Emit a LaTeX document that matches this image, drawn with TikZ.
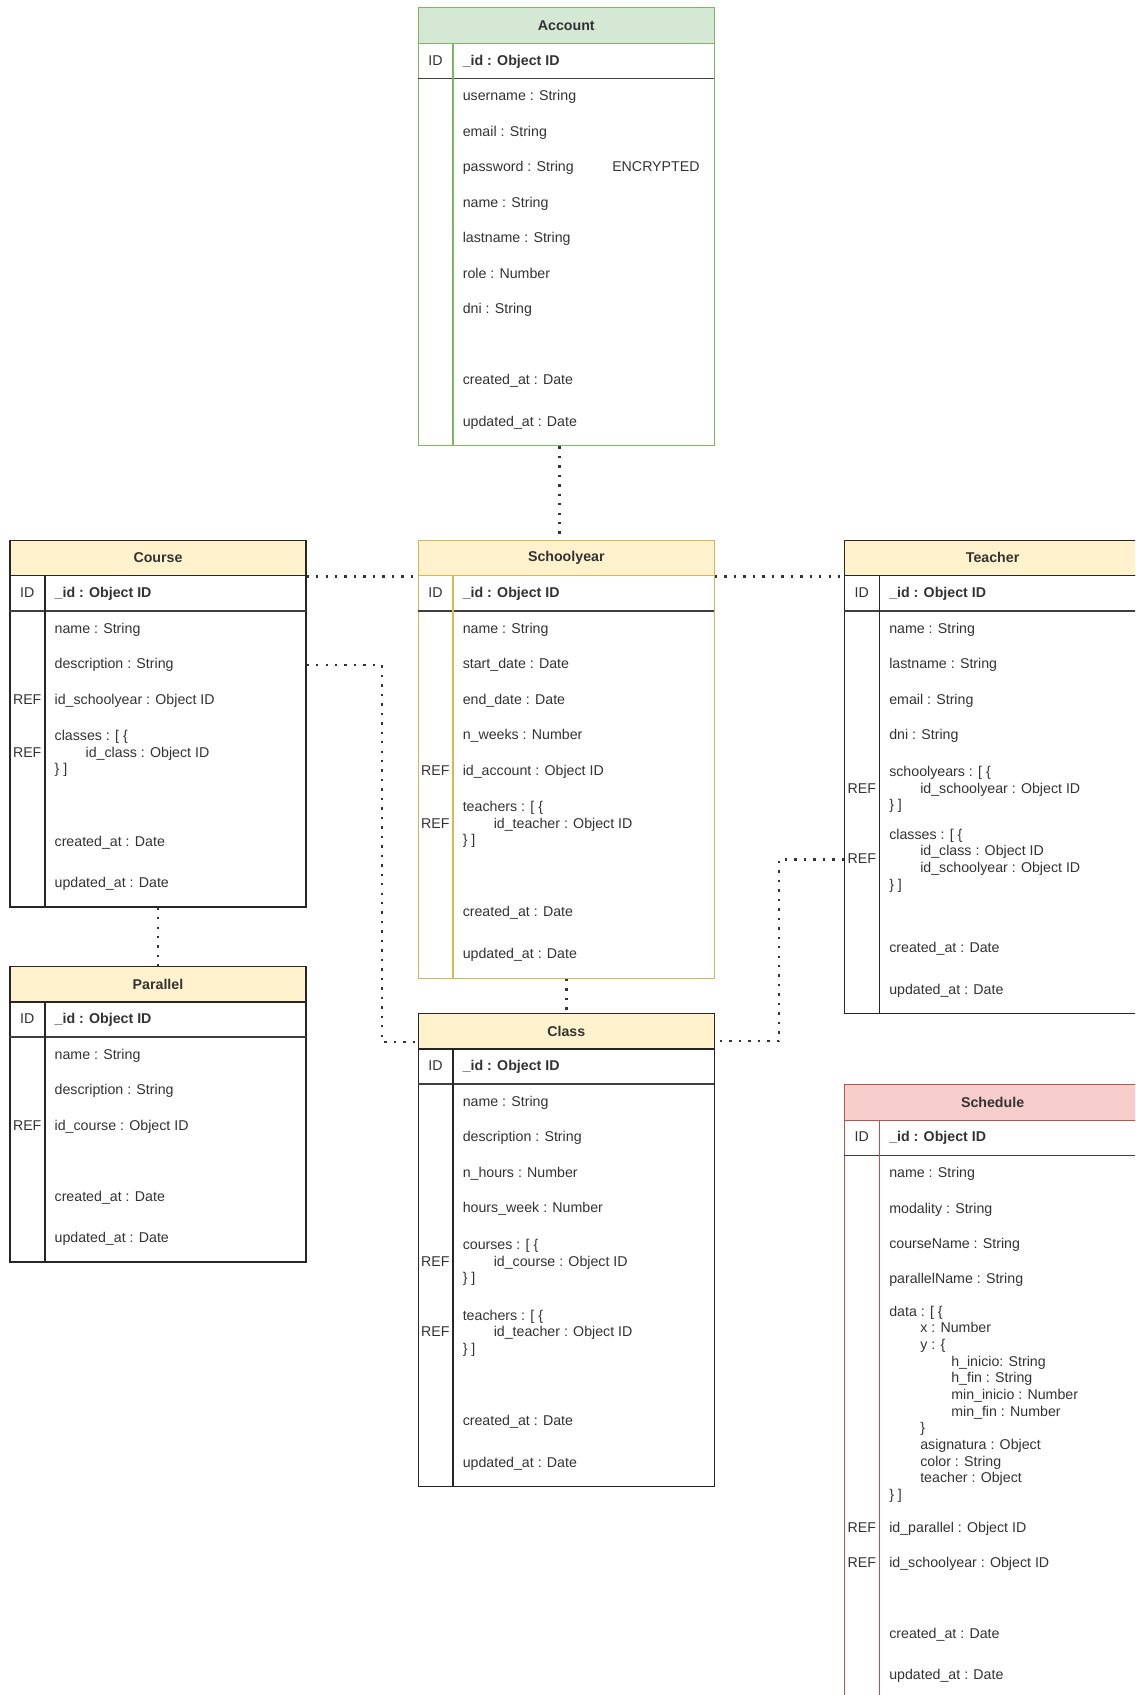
\documentclass[tikz,border=0pt]{standalone}
\usepackage{fontspec}
\setmainfont{Liberation Sans}
\usepackage{tikz}

\definecolor{txt}{HTML}{333333}
\definecolor{edge}{HTML}{262626}
\definecolor{sepc}{HTML}{404040}
\definecolor{accfill}{HTML}{D5E8D4}
\definecolor{accline}{HTML}{82B366}
\definecolor{yelfill}{HTML}{FFF2CC}
\definecolor{yelline}{HTML}{D6B656}
\definecolor{redfill}{HTML}{F8CECC}
\definecolor{redline}{HTML}{B85450}

\newcommand{\ind}{\hspace*{23.25pt}}

\tikzset{
  hdr/.style={anchor=north west, minimum width=222pt, minimum height=26.7pt,
    inner sep=0pt, line width=0.9pt, text=txt,
    font=\fontsize{10.65}{12.5}\selectfont\bfseries},
  body/.style={anchor=north west, minimum width=222pt, inner sep=0pt,
    line width=0.9pt, fill=white},
  fld/.style={anchor=west, inner sep=0pt, text=txt, text height=8pt, text depth=2.5pt,
    font=\fontsize{10.65}{12.5}\selectfont},
  fldm/.style={anchor=west, inner sep=0pt, text=txt, align=left,
    font=\fontsize{10.65}{12.5}\selectfont},
  idf/.style={fld, font=\fontsize{10.65}{12.5}\selectfont\bfseries},
  key/.style={inner sep=0pt, text=txt, text height=8pt, text depth=2.5pt,
    font=\fontsize{10.65}{12.5}\selectfont},
  sep/.style={draw=sepc, line width=1.1pt},
  rel/.style={draw=txt, line width=1.8pt, dash pattern=on 1.8pt off 5.3pt},
}

\begin{document}
\begin{tikzpicture}[x=0.75pt, y=-0.75pt]
  \useasboundingbox (0,0) rectangle (1135,1695);
  \clip (0,0) rectangle (1135,1695);

  % Account
  \node[body, draw=accline, minimum height=301.6pt] (accB) at (417.7,42.9) {};
  \node[hdr, fill=accfill, draw=accline] (accH) at (417.7,7.3) {Account};
  \draw[sep] (417.7,78.5) -- (713.7,78.5);
  \draw[accline, line width=0.9pt] (453,42.9) -- (453,445);
  \node[key] (accK) at (435.4,61.5) {ID};
  \node[idf] (accId) at (462.5,61.5) {\_id : Object ID};
  \node[fld] (accUser) at (462.5,97) {username : String};
  \node[fld] (accMail) at (462.5,132.6) {email : String};
  \node[fld] (accPass) at (462.5,168.2) {password : String};
  \node[fld] (accEnc) at (612,168.2) {ENCRYPTED};
  \node[fld] (accName) at (462.5,203.6) {name : String};
  \node[fld] (accLast) at (462.5,239) {lastname : String};
  \node[fld] (accRole) at (462.5,274.6) {role : Number};
  \node[fld] (accDni) at (462.5,310.2) {dni : String};
  \node[fld] (accCrt) at (462.5,381) {created\_at : Date};
  \node[fld] (accUpd) at (462.5,422.6) {updated\_at : Date};

  % Course
  \node[body, draw=edge, minimum height=248.4pt] (courseB) at (9.4,575.2) {};
  \node[hdr, fill=yelfill, draw=edge] (courseH) at (9.4,539.5) {Course};
  \draw[sep] (9.4,611) -- (305.5,611);
  \draw[edge, line width=0.9pt] (44.9,575.2) -- (44.9,906.4);
  \node[key] (courseK) at (27.2,593.7) {ID};
  \node[idf] (courseId) at (54.4,593.7) {\_id : Object ID};
  \node[fld] (cname) at (54.4,629.6) {name : String};
  \node[fld] (cdesc) at (54.4,665.2) {description : String};
  \node[key] (cref1) at (27.2,700.6) {REF};
  \node[fld] (cyear) at (54.4,700.6) {id\_schoolyear : Object ID};
  \node[key] (cref2) at (27.2,753.6) {REF};
  \node[fldm] (ccls) at (54.4,753.6) {classes : [ \{\\ \ind id\_class : Object ID\\ \} ]};
  \node[fld] (ccrt) at (54.4,842.6) {created\_at : Date};
  \node[fld] (cupd) at (54.4,883.6) {updated\_at : Date};

  % Parallel
  \node[body, draw=edge, minimum height=195.1pt] (parB) at (9.4,1001.3) {};
  \node[hdr, fill=yelfill, draw=edge] (parH) at (9.4,965.7) {Parallel};
  \draw[sep] (9.4,1037) -- (305.5,1037);
  \draw[edge, line width=0.9pt] (44.9,1001.3) -- (44.9,1261.4);
  \node[key] (parK) at (27.2,1019.7) {ID};
  \node[idf] (parId) at (54.4,1019.7) {\_id : Object ID};
  \node[fld] (pname) at (54.4,1055.6) {name : String};
  \node[fld] (pdesc) at (54.4,1091.1) {description : String};
  \node[key] (pref) at (27.2,1126.6) {REF};
  \node[fld] (pcourse) at (54.4,1126.6) {id\_course : Object ID};
  \node[fld] (pcrt) at (54.4,1197.6) {created\_at : Date};
  \node[fld] (pupd) at (54.4,1239.1) {updated\_at : Date};

  % Schoolyear
  \node[body, draw=yelline, minimum height=301.8pt] (yearB) at (417.7,575.2) {};
  \node[hdr, fill=yelfill, draw=yelline] (yearH) at (417.7,539.5) {Schoolyear};
  \draw[sep] (417.7,611) -- (713.7,611);
  \draw[yelline, line width=0.9pt] (453,575.2) -- (453,977.6);
  \node[key] (yearK) at (435.4,593.7) {ID};
  \node[idf] (yearId) at (462.5,593.7) {\_id : Object ID};
  \node[fld] (yname) at (462.5,629.6) {name : String};
  \node[fld] (ystart) at (462.5,665.2) {start\_date : Date};
  \node[fld] (yend) at (462.5,700.6) {end\_date : Date};
  \node[fld] (yweeks) at (462.5,736.1) {n\_weeks : Number};
  \node[key] (yref1) at (435.4,771.6) {REF};
  \node[fld] (yacc) at (462.5,771.6) {id\_account : Object ID};
  \node[key] (yref2) at (435.4,824.6) {REF};
  \node[fldm] (yteach) at (462.5,824.6) {teachers : [ \{\\ \ind id\_teacher : Object ID\\ \} ]};
  \node[fld] (ycrt) at (462.5,913.2) {created\_at : Date};
  \node[fld] (yupd) at (462.5,954.9) {updated\_at : Date};

  % Class
  \node[body, draw=edge, minimum height=327.9pt] (classB) at (417.7,1048.4) {};
  \node[hdr, fill=yelfill, draw=edge] (classH) at (417.7,1012.8) {Class};
  \draw[sep] (417.7,1084) -- (713.7,1084);
  \draw[edge, line width=0.9pt] (453,1048.4) -- (453,1485.6);
  \node[key] (classK) at (435.4,1066.8) {ID};
  \node[idf] (classId) at (462.5,1066.8) {\_id : Object ID};
  \node[fld] (kname) at (462.5,1102.6) {name : String};
  \node[fld] (kdesc) at (462.5,1138.2) {description : String};
  \node[fld] (khours) at (462.5,1173.6) {n\_hours : Number};
  \node[fld] (kweek) at (462.5,1209) {hours\_week : Number};
  \node[key] (kref1) at (435.4,1262.6) {REF};
  \node[fldm] (kcourse) at (462.5,1262.6) {courses : [ \{\\ \ind id\_course : Object ID\\ \} ]};
  \node[key] (kref2) at (435.4,1333.2) {REF};
  \node[fldm] (kteach) at (462.5,1333.2) {teachers : [ \{\\ \ind id\_teacher : Object ID\\ \} ]};
  \node[fld] (kcrt) at (462.5,1422.1) {created\_at : Date};
  \node[fld] (kupd) at (462.5,1463.6) {updated\_at : Date};

  % Teacher
  \node[body, draw=edge, minimum height=328.2pt] (teachB) at (844,575.2) {};
  \node[hdr, fill=yelfill, draw=edge] (teachH) at (844,539.5) {Teacher};
  \draw[sep] (844,611) -- (1140,611);
  \draw[edge, line width=0.9pt] (879.5,575.2) -- (879.5,1012.8);
  \node[key] (teachK) at (861.8,593.7) {ID};
  \node[idf] (teachId) at (889,593.7) {\_id : Object ID};
  \node[fld] (tname) at (889,629.6) {name : String};
  \node[fld] (tlast) at (889,665.2) {lastname : String};
  \node[fld] (tmail) at (889,700.6) {email : String};
  \node[fld] (tdni) at (889,736.1) {dni : String};
  \node[key] (tref1) at (861.8,789.6) {REF};
  \node[fldm] (tyears) at (889,789.6) {schoolyears : [ \{\\ \ind id\_schoolyear : Object ID\\ \} ]};
  \node[key] (tref2) at (861.8,859.6) {REF};
  \node[fldm] (tcls) at (889,860.6) {classes : [ \{\\ \ind id\_class : Object ID\\ \ind id\_schoolyear : Object ID\\ \} ]};
  \node[fld] (tcrt) at (889,948.6) {created\_at : Date};
  \node[fld] (tupd) at (889,990.6) {updated\_at : Date};

  % Schedule
  \node[body, draw=redline, minimum height=442.5pt] (schedB) at (844,1120) {};
  \node[hdr, fill=redfill, draw=redline, minimum height=27.2pt] (schedH) at (844,1083.7) {Schedule};
  \draw[sep] (844,1155.3) -- (1140,1155.3);
  \draw[redline, line width=0.9pt] (879.5,1120) -- (879.5,1710);
  \node[key] (schedK) at (861.8,1138.2) {ID};
  \node[idf] (schedId) at (889,1138.2) {\_id : Object ID};
  \node[fld] (sname) at (889,1173.6) {name : String};
  \node[fld] (smod) at (889,1209.4) {modality : String};
  \node[fld] (scourse) at (889,1244.6) {courseName : String};
  \node[fld] (spar) at (889,1280.1) {parallelName : String};
  \node[fldm] (sdata) at (889,1404.1) {data : [ \{\\
    \ind x : Number\\
    \ind y : \{\\
    \ind\ind h\_inicio: String\\
    \ind\ind h\_fin : String\\
    \ind\ind min\_inicio : Number\\
    \ind\ind min\_fin : Number\\
    \ind \}\\
    \ind asignatura : Object\\
    \ind color : String\\
    \ind teacher : Object\\
    \} ]};
  \node[key] (sref1) at (861.8,1528.6) {REF};
  \node[fld] (spid) at (889,1528.6) {id\_parallel : Object ID};
  \node[key] (sref2) at (861.8,1564) {REF};
  \node[fld] (syid) at (889,1564) {id\_schoolyear : Object ID};
  \node[fld] (scrt) at (889,1634.6) {created\_at : Date};
  \node[fld] (supd) at (889,1676.3) {updated\_at : Date};

  % relations
  \coordinate (cbend) at (382.2,1042);
  \coordinate (tbend) at (779,1040.8);
  \draw[rel] ([xshift=-5.2pt]accB.south) -- ([xshift=-5.2pt]yearH.north);
  \draw[rel] (courseH.south east) -- (yearH.south west);
  \draw[rel] (yearH.south east) -- (teachH.south west);
  \draw[rel] (courseB.east |- cdesc) -| (cbend) -- (cbend -| classH.west);
  \draw[rel] (teachB.west |- tref2) -| (tbend) -- (tbend -| classH.east);
  \draw[rel] (yearB.south) -- (classH.north);
  \draw[rel] (courseB.south) -- (parH.north);
\end{tikzpicture}
\end{document}
